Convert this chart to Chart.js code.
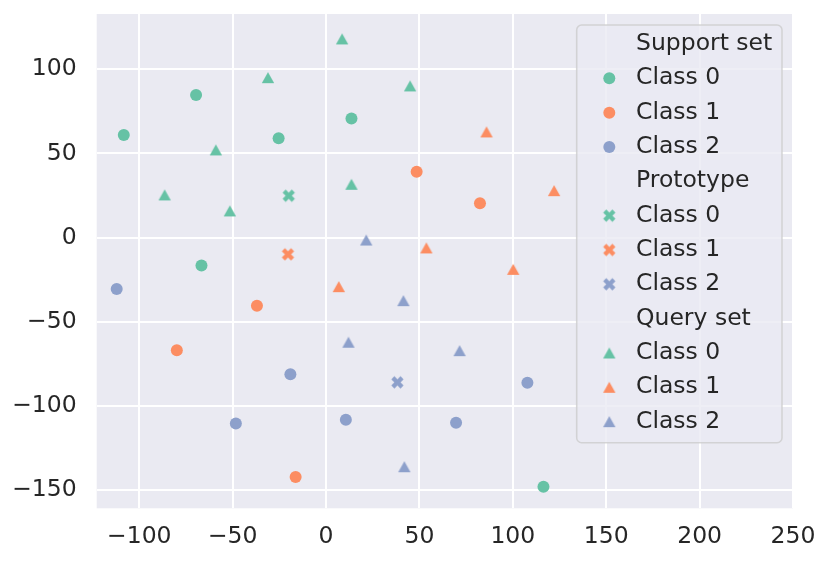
<!DOCTYPE html>
<html>
<head>
<meta charset="utf-8">
<script src="https://cdn.jsdelivr.net/npm/chart.js@4/dist/chart.umd.min.js"></script>
<style>
html,body{margin:0;padding:0;background:#fff;}
#wrap{width:830px;height:562px;}
</style>
</head>
<body>
<div id="wrap"><canvas id="c" width="830" height="562"></canvas></div>
<script>
// ---- data ----
const supportClass0 = [[-108.3,61.0],[-69.6,84.7],[-25.4,59.0],[13.6,70.7],[-66.7,-16.6],[116.4,-147.9]];
const supportClass1 = [[48.5,39.2],[82.4,20.4],[-37.0,-40.4],[-79.9,-66.9],[-16.3,-142.1]];
const supportClass2 = [[-112.1,-30.5],[-19.1,-81.1],[-48.3,-110.4],[10.6,-108.1],[107.8,-86.1],[69.6,-109.9]];
const prototypeClass0 = [[-20.0,24.9]];
const prototypeClass1 = [[-20.4,-9.9]];
const prototypeClass2 = [[38.2,-85.9]];
const queryClass0 = [[8.6,118.0],[-31.1,95.0],[45.0,90.1],[-59.0,52.1],[-86.4,25.4],[-51.5,15.9],[13.6,31.7]];
const queryClass1 = [[85.9,62.8],[122.1,27.9],[53.7,-6.1],[100.2,-18.8],[6.8,-29.1]];
const queryClass2 = [[21.5,-1.4],[41.4,-37.4],[12.0,-62.1],[41.9,-136.0],[71.5,-67.1]];
const classNames = ['Class 0','Class 1','Class 2'];
const groupNames = ['Support set','Prototype','Query set'];
const xTicks = [-100,-50,0,50,100,150,200,250];
const yTicks = [-150,-100,-50,0,50,100];

// ---- styles ----
const colors = ['#66c2a5','#fc8d62','#8da0cb'];
const FONT = '"DejaVu Sans", "Liberation Sans", sans-serif';
const FS = 23.5;
const TXT = '#262626';

function makeMarker(shape, color){
  const cv = document.createElement('canvas');
  const ctx = cv.getContext('2d');
  ctx.fillStyle = color;
  if (shape === 'tri'){
    cv.width = 14; cv.height = 13;
    ctx.fillStyle = color;
    ctx.beginPath();
    ctx.moveTo(7, 1); ctx.lineTo(13.2, 12); ctx.lineTo(0.8, 12); ctx.closePath();
    ctx.fill();
  } else {
    cv.width = 15; cv.height = 15;
    ctx.fillStyle = color;
    // filled X: a plus sign rotated by 45 degrees
    const s = 13, w = s/6, L = s/2, c = 7.5;
    const plus = [[w,w],[L,w],[L,-w],[w,-w],[w,-L],[-w,-L],[-w,-w],[-L,-w],[-L,w],[-w,w],[-w,L],[w,L]];
    const k = Math.SQRT1_2;
    ctx.beginPath();
    plus.forEach((p,i) => {
      const px = c + (p[0]-p[1])*k, py = c + (p[0]+p[1])*k;
      if (i===0) ctx.moveTo(px,py); else ctx.lineTo(px,py);
    });
    ctx.closePath();
    ctx.fill();
  }
  return cv;
}
const triMarkers = colors.map(c => makeMarker('tri', c));
const xMarkers = colors.map(c => makeMarker('x', c));

const toPts = arr => arr.map(p => ({x:p[0], y:p[1]}));
const supportSets = [supportClass0, supportClass1, supportClass2];
const protoSets = [prototypeClass0, prototypeClass1, prototypeClass2];
const querySets = [queryClass0, queryClass1, queryClass2];

const datasets = [];
supportSets.forEach((d,i) => datasets.push({label: groupNames[0]+' '+classNames[i], data: toPts(d),
  pointStyle:'circle', pointRadius:6, pointHoverRadius:6, backgroundColor: colors[i], borderWidth:0}));
protoSets.forEach((d,i) => datasets.push({label: groupNames[1]+' '+classNames[i], data: toPts(d),
  pointStyle: xMarkers[i], pointRadius:7, pointHoverRadius:7, backgroundColor: colors[i], borderWidth:0}));
querySets.forEach((d,i) => datasets.push({label: groupNames[2]+' '+classNames[i], data: toPts(d),
  pointStyle: triMarkers[i], pointRadius:7, pointHoverRadius:7, backgroundColor: colors[i], borderWidth:0}));

const bgPlugin = {
  id:'bg',
  beforeDraw(chart){
    const {ctx, chartArea:a} = chart;
    ctx.save(); ctx.fillStyle = '#eaeaf2';
    ctx.fillRect(a.left, a.top, a.right-a.left, a.bottom-a.top);
    ctx.restore();
  }
};

const legendPlugin = {
  id:'customLegend',
  afterDraw(chart){
    const ctx = chart.ctx;
    const bx = 576.7, by = 25, bw = 205.3, bh = 417.7, r = 5;
    ctx.save();
    ctx.beginPath();
    ctx.roundRect(bx, by, bw, bh, r);
    ctx.fillStyle = 'rgba(234,234,242,0.8)';
    ctx.fill();
    ctx.lineWidth = 1.5;
    ctx.strokeStyle = 'rgba(204,204,204,0.8)';
    ctx.stroke();
    ctx.font = FS + 'px ' + FONT;
    ctx.fillStyle = TXT;
    ctx.textBaseline = 'middle';
    ctx.textAlign = 'left';
    const textX = 636, markX = 609.3, y0 = 44, dy = 34.33;
    let row = 0;
    const styles = ['circle', xMarkers, triMarkers];
    groupNames.forEach((g, gi) => {
      ctx.fillStyle = TXT;
      ctx.fillText(g, textX, y0 + row*dy);
      row++;
      classNames.forEach((cn, ci) => {
        const y = y0 + row*dy;
        const st = gi === 0 ? 'circle' : styles[gi][ci];
        ctx.fillStyle = colors[ci];
        Chart.helpers.drawPoint(ctx, {pointStyle: st, radius: gi===0?6:7, borderWidth:0, rotation:0}, markX, y);
        ctx.fillStyle = TXT;
        ctx.fillText(cn, textX, y);
        row++;
      });
    });
    ctx.restore();
  }
};

const fmt = v => String(v).replace('-', '\u2212');

new Chart(document.getElementById('c'), {
  type:'scatter',
  data:{datasets},
  plugins:[bgPlugin, legendPlugin],
  options:{
    responsive:false,
    animation:false,
    layout:{padding:{left:0, right:37, top:14, bottom:0}},
    plugins:{legend:{display:false}, tooltip:{enabled:false}},
    scales:{
      x:{
        type:'linear', min:-122.8, max:250,
        afterBuildTicks(s){ s.ticks = xTicks.map(v => ({value:v})); },
        afterFit(s){ s.height = 562 - 508.3; s.paddingLeft = 0; s.paddingRight = 0; },
        grid:{color:'#ffffff', lineWidth:2, drawTicks:false},
        border:{display:false},
        ticks:{padding:14, color:TXT, font:{family:FONT, size:FS}, maxRotation:0, callback: fmt}
      },
      y:{
        type:'linear', min:-160.7, max:132.8,
        afterBuildTicks(s){ s.ticks = yTicks.map(v => ({value:v})); },
        afterFit(s){ s.width = 96.7; s.paddingTop = 0; s.paddingBottom = 0; },
        grid:{color:'#ffffff', lineWidth:2, drawTicks:false},
        border:{display:false},
        ticks:{padding:20, color:TXT, font:{family:FONT, size:FS}, callback: fmt}
      }
    }
  }
});
</script>
</body>
</html>
